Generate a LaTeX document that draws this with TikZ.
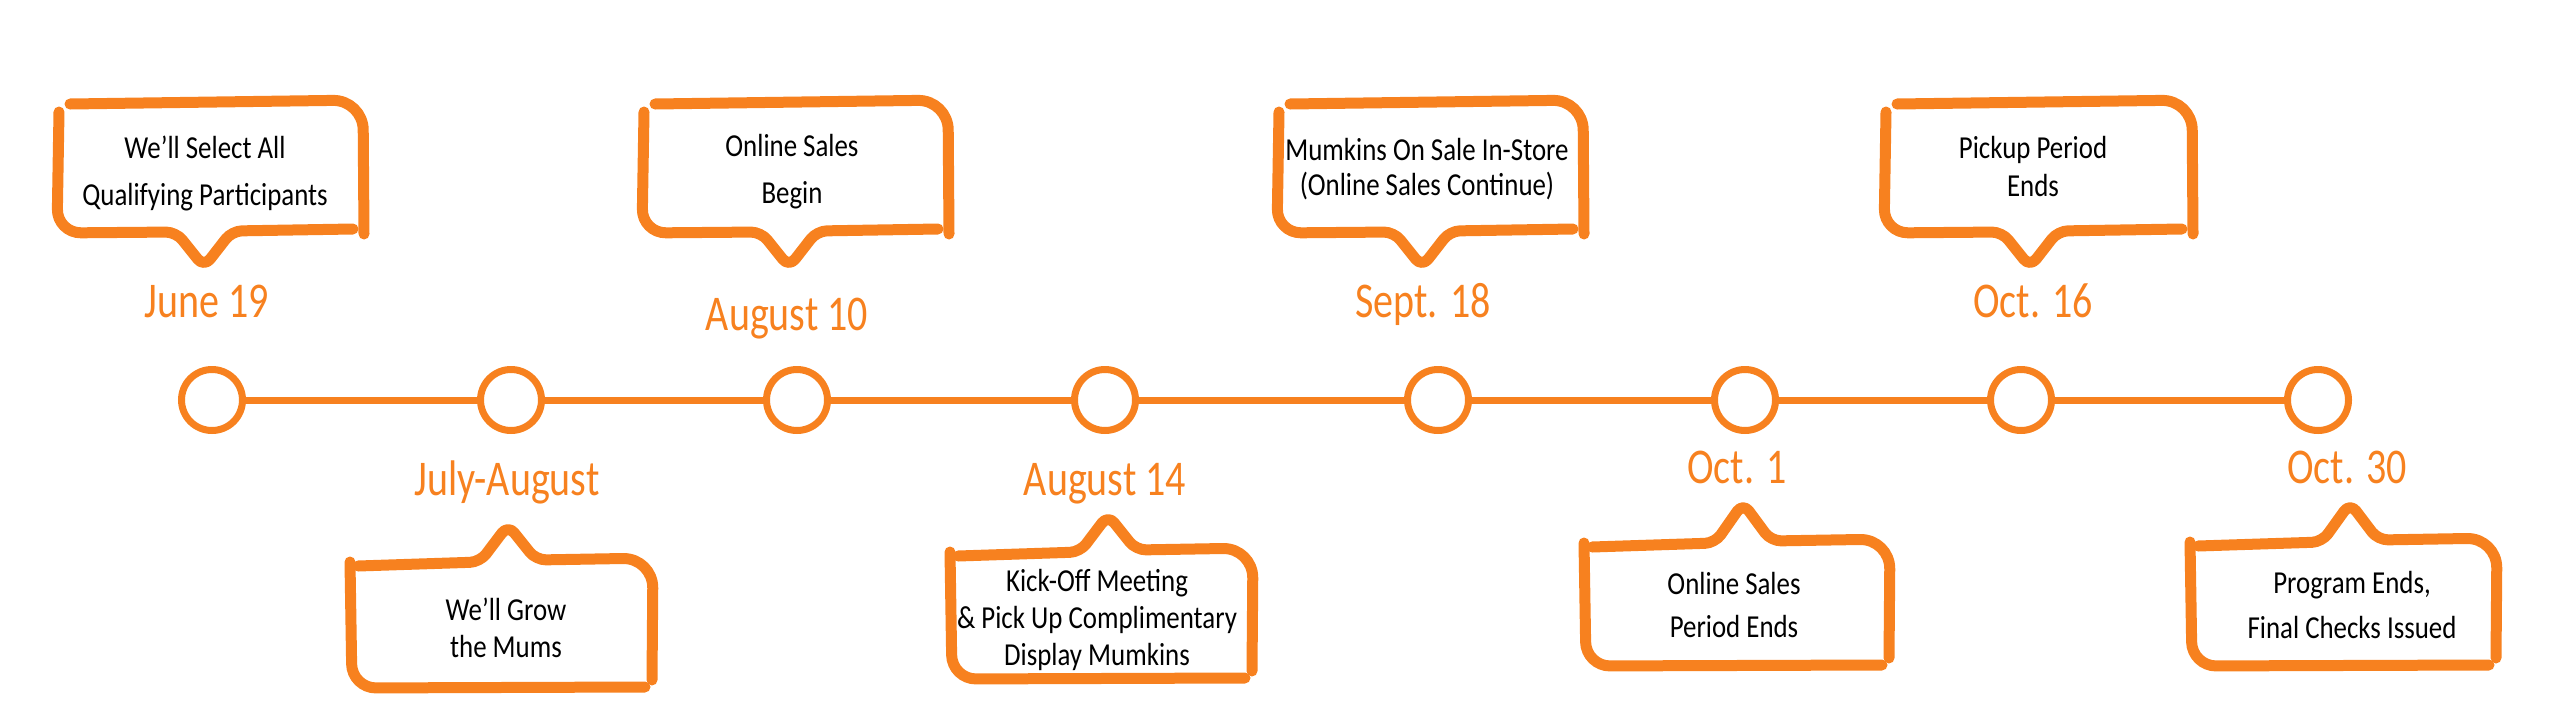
\documentclass[tikz,border=0pt]{standalone}
\usepackage{fontspec}
\newfontfamily\handtext[FakeStretch=0.84]{Carlito}
\newfontfamily\handdate[FakeStretch=0.8]{Carlito}
\definecolor{mumorange}{RGB}{247,129,31}
\tikzset{
  bub/.style={draw=mumorange, line width=5.5pt, line cap=round, line join=round},
  dot/.style={circle, draw=mumorange, line width=3.5pt, minimum size=30.5pt, inner sep=0pt, fill=white},
  tl/.style={draw=mumorange, line width=3.5pt},
  btext/.style={align=center, text=black, font=\handtext\fontsize{16}{#1}\selectfont, inner sep=0pt},
  datelbl/.style={anchor=base, text=mumorange, font=\handdate\fontsize{25}{30}\selectfont, inner sep=0pt},
}
% top bubble: L R T B tipx tipy
\newcommand\topbubble[6]{%
  \draw[bub, rounded corners=15pt] (#1+12,#3+1) -- (#2,#3-3) -- (#2+1,#4+3);
  \draw[bub, rounded corners=5pt] (#2-10,#4-2) -- (#5+28,#4) -- (#5,#6) -- (#5-28,#4+1)
     [rounded corners=12pt] -- (#1-1,#4+2) -- (#1+1,#3+9);
}
% bottom bubble: L R T B tipx tipy
\newcommand\botbubble[6]{%
  \draw[bub, rounded corners=5pt] (#1+8,#3+6) -- (#5-28,#3+2) -- (#5,#6) -- (#5+28,#3)
     [rounded corners=15pt] -- (#2,#3-2) -- (#2-1,#4-8);
  \draw[bub, rounded corners=12pt] (#1,#3+2) -- (#1+2,#4) -- (#2-8,#4-1);
}
\begin{document}
\begin{tikzpicture}[x=0.5pt, y=-0.5pt]
\useasboundingbox (0,0) rectangle (2560,718);
% bubbles
\topbubble{58}{363}{103}{231}{204}{267}
\topbubble{643}{948}{103}{231}{789}{267}
\topbubble{1278}{1583}{103}{231}{1422}{267}
\topbubble{1885}{2192}{103}{231}{2030}{267}
\botbubble{350}{653}{560}{688}{508}{525}
\botbubble{950}{1253}{550}{679}{1108}{515}
\botbubble{1584}{1890}{541}{666}{1743}{503}
\botbubble{2190}{2497}{540}{666}{2350}{503}
% bubble texts
\node[btext=23.5] (t1) at (205,173) {We’ll Select All\\Qualifying Participants};
\node[btext=23.5] (t2) at (792,172) {Online Sales\\Begin};
\node[btext=17.5] (t3) at (1427,169) {Mumkins On Sale In-Store\\(Online Sales Continue)};
\node[btext=19] (t4) at (2033,167) {Pickup Period\\Ends};
\node[btext=18.5] (t5) at (506,628) {We’ll Grow\\the Mums};
\node[btext=18.5] (t6) at (1097,620) {Kick-Off Meeting\\\& Pick Up Complimentary\\Display Mumkins};
\node[btext=21.5] (t7) at (1734,605) {Online Sales\\Period Ends};
\node[btext=22.5] (t8) at (2352,605) {Program Ends,\\Final Checks Issued};
% dates
\node[datelbl] (d1) at (207,317) {June 19};
\node[datelbl] (d2) at (507,495) {July-August};
\node[datelbl] (d3) at (787,330) {August 10};
\node[datelbl] (d4) at (1105,495) {August 14};
\node[datelbl] (d5) at (1423,317) {Sept. 18};
\node[datelbl] (d6) at (1737,483) {Oct. 1};
\node[datelbl] (d7) at (2033,317) {Oct. 16};
\node[datelbl] (d8) at (2347,483) {Oct. 30};
% timeline
\node[dot] (c1) at (212,400) {};
\node[dot] (c2) at (511,400) {};
\node[dot] (c3) at (797,400) {};
\node[dot] (c4) at (1105,400) {};
\node[dot] (c5) at (1438,400) {};
\node[dot] (c6) at (1745,400) {};
\node[dot] (c7) at (2021,400) {};
\node[dot] (c8) at (2318,400) {};
\draw[tl] (c1) -- (c2) -- (c3) -- (c4) -- (c5) -- (c6) -- (c7) -- (c8);
\end{tikzpicture}
\end{document}
